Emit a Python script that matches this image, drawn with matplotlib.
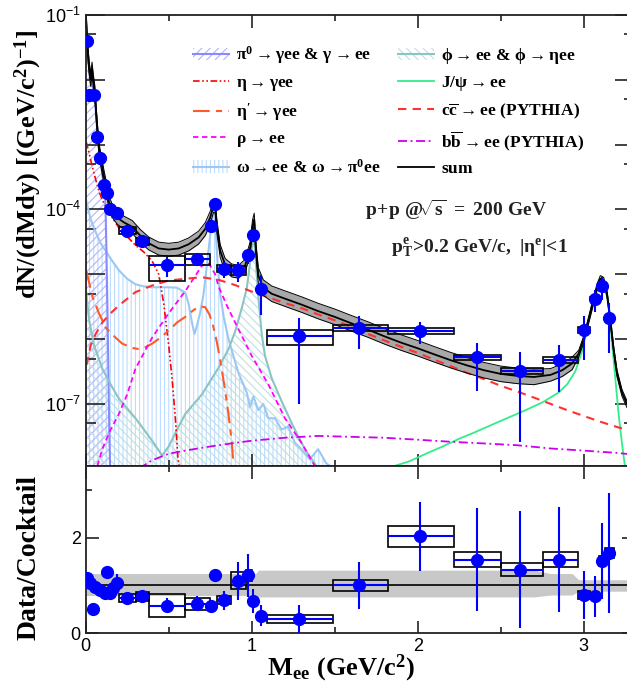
import numpy as np
import matplotlib
matplotlib.use("Agg")
import matplotlib.pyplot as plt
from matplotlib.patches import Rectangle, Patch
from matplotlib.lines import Line2D
from matplotlib.ticker import FixedLocator, FuncFormatter, NullFormatter

# ======================== DATA ========================
# low-mass data points, upper panel
lo_x = [0.01, 0.022, 0.052, 0.07, 0.086, 0.112, 0.13, 0.146, 0.186]
lo_y = [3.9e-2, 5.9e-3, 5.9e-3, 1.31e-3, 6.2e-4, 2.36e-4, 1.8e-4, 1.03e-4, 8.8e-5]
lo_err = [2e-3, 5e-4, 5e-4, 1e-4, 5e-5, 2e-5, 1.5e-5, 1e-5, 8e-6]

# low-mass data points, ratio panel
lo_rx = [0.006, 0.026, 0.046, 0.056, 0.086, 0.116, 0.126, 0.146, 0.166, 0.187]
lo_r = [1.15, 1.05, 0.50, 0.975, 0.906, 0.84, 1.28, 0.84, 0.94, 1.06]
lo_rerr = [0.03, 0.03, 0.03, 0.05, 0.05, 0.06, 0.12, 0.08, 0.09, 0.18]

# binned points with systematic boxes
hi_x = [0.247, 0.341, 0.488, 0.672, 0.755, 0.779, 0.833, 0.92, 0.98, 1.006, 1.054,
        1.285, 1.648, 2.014, 2.355, 2.616, 2.853, 3.004, 3.068, 3.108, 3.154]
hi_xlo = [0.20, 0.30, 0.38, 0.60, 0.75, 0.77, 0.79, 0.875, 0.966, 1.0, 1.02,
          1.09, 1.49, 1.82, 2.22, 2.50, 2.756, 2.966, 3.04, 3.09, 3.13]
hi_xhi = [0.30, 0.38, 0.60, 0.75, 0.77, 0.79, 0.875, 0.966, 1.0, 1.02, 1.09,
          1.49, 1.82, 2.22, 2.50, 2.756, 2.966, 3.04, 3.09, 3.13, 3.18]
hi_y = [4.7e-5, 3.2e-5, 1.37e-5, 1.74e-5, 5.5e-5, 1.2e-4, 1.22e-5, 1.17e-5, 1.95e-5, 4.1e-5, 5.96e-6,
        1.1e-6, 1.48e-6, 1.35e-6, 5.2e-7, 3.26e-7, 4.8e-7, 1.38e-6, 4.2e-6, 6.5e-6, 2.1e-6]
hi_err = [4e-6, 5e-6, 4.5e-6, 3e-6, 8e-6, 1.2e-5, 3.5e-6, 4e-6, 5e-6, 8e-6, 3.6e-6,
          1.0e-6, 7.8e-7, 5e-7, 3.6e-7, 3.0e-7, 3.3e-7, 9e-7, 1.6e-6, 2.5e-6, 1.5e-6]
hi_sys = [0.12, 0.12, 0.42, 0.2, 0, 0, 0.12, 0.16, 0.09, 0, 0,
          0.27, 0.11, 0.11, 0.10, 0.10, 0.10, 0.10, 0.05, 0.07, 0.06]
hi_r = [0.74, 0.77, 0.58, 0.62, 0.58, 1.21, 0.69, 1.10, 1.21, 0.67, 0.37,
        0.30, 1.00, 2.03, 1.54, 1.33, 1.54, 0.795, 0.77, 1.51, 1.68]
hi_rerr = [0.08, 0.12, 0.15, 0.15, 0.12, 0.14, 0.2, 0.4, 0.45, 0.25, 0.22,
           0.3, 0.49, 0.72, 1.08, 1.22, 1.1, 0.5, 0.42, 0.8, 1.25]

# cocktail components
pi0_x = [0.002, 0.01, 0.02, 0.03, 0.04, 0.05, 0.06, 0.07, 0.08, 0.09, 0.1, 0.11, 0.118,
         0.124, 0.13, 0.136, 0.142, 0.147]
pi0_y = [8.5e-2, 3.2e-2, 1.5e-2, 9e-3, 8e-3, 6e-3, 3.5e-3, 1.6e-3, 9e-4, 5.5e-4, 3.5e-4, 2.2e-4, 1.5e-4,
         3e-5, 4e-6, 4e-7, 4e-8, 1e-8]

eta_x = [0.003, 0.02, 0.04, 0.06, 0.08, 0.1, 0.13, 0.16, 0.2, 0.25, 0.3, 0.35, 0.4, 0.44,
         0.47, 0.5, 0.52, 0.54, 0.555, 0.565]
eta_y = [1.1e-3, 7.5e-4, 4.5e-4, 2.9e-4, 1.9e-4, 1.4e-4, 1e-4, 7.5e-5, 5.2e-5, 3.8e-5, 2.8e-5, 2.2e-5,
         1.6e-5, 1.0e-5, 3.5e-6, 8e-7, 2.5e-7, 6e-8, 1.5e-8, 1e-8]

etap_x = [0.005, 0.04, 0.08, 0.12, 0.18, 0.22, 0.28, 0.32, 0.36, 0.4, 0.45, 0.5, 0.55, 0.6,
          0.65, 0.685, 0.72, 0.745, 0.765, 0.79, 0.815, 0.84, 0.86, 0.88, 0.89]
etap_y = [1.1e-5, 4.5e-6, 2.5e-6, 1.5e-6, 1.05e-6, 8.5e-7, 7.3e-7, 7e-7, 7.5e-7, 8.5e-7, 1.05e-6, 1.35e-6,
          1.8e-6, 2.2e-6, 2.8e-6, 3.2e-6, 3.1e-6, 2.4e-6, 1.7e-6, 9e-7, 4e-7, 1.6e-7, 7e-8, 2.5e-8, 1.2e-8]

rho_x = [0.07, 0.1, 0.15, 0.2, 0.25, 0.3, 0.4, 0.5, 0.6, 0.7, 0.74, 0.78, 0.8, 0.85,
         0.9, 0.95, 1.0, 1.1, 1.2, 1.3, 1.38]
rho_y = [1.1e-8, 2e-8, 4e-8, 7e-8, 1.4e-7, 3.5e-7, 1.05e-6, 2.5e-6, 5.5e-6, 1.35e-5, 1.5e-5, 1e-5, 6.5e-6, 3.3e-6,
         1.8e-6, 1.0e-6, 5.5e-7, 2e-7, 6e-8, 2.5e-8, 1.1e-8]

omega_x = [0.002, 0.03, 0.06, 0.09, 0.12, 0.16, 0.2, 0.25, 0.3, 0.35, 0.4, 0.45, 0.5, 0.55,
           0.6, 0.62, 0.64, 0.655, 0.67, 0.69, 0.71, 0.73, 0.75, 0.765, 0.775, 0.785, 0.795,
           0.81, 0.83, 0.86, 0.89, 0.92, 0.95, 0.97, 0.99, 1.01, 1.04, 1.07, 1.1, 1.14, 1.18,
           1.22, 1.26, 1.3, 1.35, 1.4, 1.45, 1.5]
omega_y = [1.4e-4, 7e-5, 4.5e-5, 3e-5, 2.3e-5, 1.6e-5, 1.15e-5, 8.5e-6, 7e-6, 6.5e-6, 6.3e-6, 6.3e-6, 6.3e-6, 6.2e-6,
           5.2e-6, 3.5e-6, 1.8e-6, 1.2e-6, 1.6e-6, 2.6e-6, 5e-6, 1.4e-5, 4e-5, 8.5e-5, 9.5e-5, 4e-5, 1.4e-5,
           5e-6, 2.3e-6, 1e-6, 5.5e-7, 3e-7, 2e-7, 1.5e-7, 9e-8, 1.3e-7, 8e-8, 1e-7, 6e-8, 6e-8, 4e-8,
           4.5e-8, 2.5e-8, 2e-8, 1.4e-8, 2e-8, 1.2e-8, 1e-8]

phi_x = [0.002, 0.02, 0.05, 0.1, 0.15, 0.2, 0.3, 0.4, 0.46, 0.5, 0.55, 0.6, 0.7, 0.8, 0.86,
         0.9, 0.94, 0.97, 0.99, 1.005, 1.015, 1.025, 1.04, 1.06, 1.08, 1.12, 1.18, 1.25, 1.32, 1.39]
phi_y = [5.6e-6, 2e-6, 8e-7, 3.5e-7, 2e-7, 1.2e-7, 6e-8, 2.7e-8, 1.6e-8, 2.2e-8, 4e-8, 7e-8, 1.4e-7, 3.6e-7, 7e-7,
         1.3e-6, 3e-6, 6e-6, 1.5e-5, 3.2e-5, 3.5e-5, 1.5e-5, 4.5e-6, 1.2e-6, 5.5e-7, 2.5e-7, 1.1e-7, 4.5e-8, 2e-8, 1.1e-8]

jpsi_x = [1.86, 1.95, 2.05, 2.15, 2.25, 2.35, 2.45, 2.55, 2.65, 2.75, 2.85, 2.9, 2.95, 2.99,
          3.02, 3.05, 3.07, 3.09, 3.11, 3.13, 3.15, 3.17, 3.19, 3.21, 3.23, 3.25]
jpsi_y = [1.1e-8, 1.3e-8, 1.7e-8, 2.2e-8, 2.9e-8, 3.7e-8, 4.8e-8, 6.2e-8, 8e-8, 1.05e-7, 1.5e-7, 2.0e-7, 3.2e-7, 6.5e-7,
          1.5e-6, 3.4e-6, 5.3e-6, 7.2e-6, 8.3e-6, 7.5e-6, 3.5e-6, 9e-7, 2.5e-7, 7e-8, 2.5e-8, 1e-8]

cc_x = [0.005, 0.03, 0.06, 0.1, 0.15, 0.2, 0.3, 0.4, 0.5, 0.6, 0.7, 0.8, 0.9, 1.0, 1.1, 1.2,
        1.3, 1.4, 1.5, 1.6, 1.7, 1.8, 1.9, 2.0, 2.1, 2.2, 2.3, 2.4, 2.5, 2.6, 2.7, 2.8, 2.9,
        3.0, 3.1, 3.2, 3.3]
cc_y = [4e-7, 8e-7, 1.2e-6, 1.8e-6, 2.5e-6, 3.3e-6, 5.3e-6, 6.7e-6, 8e-6, 8.5e-6, 9e-6, 8.2e-6, 6.8e-6, 5.4e-6,
        4.4e-6, 3.6e-6, 3.0e-6, 2.4e-6, 1.95e-6, 1.55e-6, 1.2e-6, 9.5e-7, 7.6e-7, 6.1e-7, 4.8e-7, 3.8e-7,
        3.0e-7, 2.4e-7, 1.9e-7, 1.55e-7, 1.25e-7, 1.0e-7, 8e-8, 6.5e-8, 5.3e-8, 4.4e-8, 3.7e-8]

bb_x = [0.32, 0.4, 0.5, 0.6, 0.7, 0.8, 0.9, 1.0, 1.2, 1.4, 1.6, 1.8, 2.0, 2.2, 2.4, 2.6,
        2.8, 3.0, 3.2, 3.3]
bb_y = [1.0e-8, 1.35e-8, 1.7e-8, 1.9e-8, 2.1e-8, 2.3e-8, 2.5e-8, 2.7e-8, 3.0e-8, 3.2e-8, 3.1e-8, 3.0e-8,
        2.8e-8, 2.6e-8, 2.45e-8, 2.3e-8, 2.05e-8, 1.9e-8, 1.75e-8, 1.65e-8]

sum_x = [0.002, 0.01, 0.02, 0.03, 0.038, 0.045, 0.055, 0.065, 0.075, 0.085, 0.095, 0.11, 0.125,
         0.14, 0.16, 0.19, 0.23, 0.28, 0.33, 0.38, 0.44, 0.5, 0.56, 0.62, 0.68, 0.72, 0.75,
         0.77, 0.78, 0.79, 0.81, 0.84, 0.88, 0.92, 0.96, 0.99, 1.005, 1.015, 1.025, 1.04,
         1.07, 1.12, 1.2, 1.3, 1.4, 1.5, 1.6, 1.7, 1.8, 1.9, 2.0, 2.1, 2.2, 2.3, 2.4, 2.5,
         2.6, 2.7, 2.8, 2.87, 2.93, 2.97, 3.0, 3.03, 3.06, 3.08, 3.1, 3.12, 3.14, 3.16, 3.18,
         3.2, 3.23, 3.26, 3.3]
sum_y = [9e-2, 3.4e-2, 1.6e-2, 1.0e-2, 1.5e-2, 1.0e-2, 6.5e-3, 2.6e-3, 1.2e-3, 7.0e-4, 5.2e-4, 3.2e-4, 2.1e-4,
         1.3e-4, 9.5e-5, 7.5e-5, 6.3e-5, 5.4e-5, 3.9e-5, 3.0e-5, 2.5e-5, 2.4e-5, 2.5e-5, 2.9e-5, 3.7e-5, 5.0e-5, 7.5e-5,
         1.15e-4, 1.1e-4, 5.5e-5, 2.3e-5, 1.4e-5, 1.15e-5, 1.1e-5, 1.35e-5, 2.5e-5, 5.5e-5, 7.0e-5, 2.5e-5, 9.5e-6,
         6.2e-6, 5.0e-6, 4.2e-6, 3.4e-6, 2.7e-6, 2.2e-6, 1.75e-6, 1.4e-6, 1.1e-6, 8.8e-7, 7.2e-7, 5.8e-7, 4.7e-7, 3.9e-7, 3.3e-7, 2.9e-7,
         2.7e-7, 2.6e-7, 2.8e-7, 3.3e-7, 4.2e-7, 6.0e-7, 1.0e-6, 2.0e-6, 4.0e-6, 6.3e-6, 8.5e-6, 8.0e-6, 5.0e-6, 2.0e-6, 7.0e-7,
         3.0e-7, 1.5e-7, 1.0e-7, 8e-8]

# cocktail uncertainty band (relative), piecewise in mass
band_edges = [0.0, 1.03, 2.75, 2.97]
band_up = [0.25, 0.32, 0.25, 0.12]
band_dn = [0.21, 0.24, 0.20, 0.12]

# ======================== STYLE ========================
plt.rcParams["font.family"] = ["Liberation Sans", "DejaVu Sans"]
plt.rcParams["mathtext.fontset"] = "custom"
plt.rcParams["mathtext.rm"] = "Liberation Serif:bold"
plt.rcParams["mathtext.it"] = "Liberation Serif:bold"
plt.rcParams["mathtext.bf"] = "Liberation Serif:bold"
plt.rcParams["mathtext.sf"] = "Liberation Sans"
plt.rcParams["hatch.linewidth"] = 0.8
SERIF = ["Liberation Serif", "DejaVu Serif"]

C_PI0, C_PI0L = "#b4b4ff", "#8a8aff"
C_OM, C_OML = "#bcdcff", "#9cc8f4"
C_PHI, C_PHIL = "#bfe0e0", "#8cc4c4"
BLUE = "#0000ff"

fig = plt.figure(figsize=(6.27, 6.87), dpi=100)
ax = fig.add_axes([0.1367, 0.3217, 0.8737, 0.6565])
axr = fig.add_axes([0.1367, 0.0782, 0.8737, 0.2435])

YMIN = 1.1e-8

# ======================== UPPER PANEL ========================
ax.fill_between(omega_x, YMIN, omega_y, facecolor="none", edgecolor=C_OM, hatch="||||", linewidth=0)
ax.fill_between(pi0_x, YMIN, pi0_y, facecolor="none", edgecolor=C_PI0, hatch="////", linewidth=0)
ax.fill_between(phi_x, YMIN, phi_y, facecolor="none", edgecolor=C_PHI, hatch="\\\\\\\\", linewidth=0)
ax.plot(omega_x, omega_y, color=C_OML, lw=1.5)
ax.plot(pi0_x, pi0_y, color=C_PI0L, lw=1.5)
ax.plot(phi_x, phi_y, color=C_PHIL, lw=1.5)

ls_eta = (0, (4, 1.5, 1, 1.5, 1, 1.5))
ls_etap = (0, (8, 3, 3, 3))
ls_rho = (0, (3, 2))
ls_cc = (0, (4, 3))
ls_bb = (0, (5, 2, 1, 2))
ax.plot(eta_x, eta_y, color="#ff0000", lw=1.2, ls=ls_eta)
ax.plot(etap_x, etap_y, color="#ff5a28", lw=1.5, ls=ls_etap)
ax.plot(rho_x, rho_y, color="#ff00ff", lw=1.3, ls=ls_rho)
ax.plot(jpsi_x, jpsi_y, color="#33ee88", lw=1.3)
ax.plot(cc_x, cc_y, color="#ff3030", lw=1.5, ls=ls_cc)
ax.plot(bb_x, bb_y, color="#cc00ee", lw=1.3, ls=ls_bb)

# sum with uncertainty band
sx = np.array(sum_x)
sy = np.array(sum_y)
seg = np.searchsorted(band_edges, sx, side="right") - 1
up = np.array(band_up)[seg]
dn = np.array(band_dn)[seg]
ax.fill_between(sx, sy * (1 - dn), sy * (1 + up), color="#a8a8a8", lw=0)
ax.plot(sx, sy * (1 - dn), color="k", lw=0.7)
ax.plot(sx, sy * (1 + up), color="k", lw=0.7)
ax.plot(sx, sy, color="k", lw=1.3)

# data
hx = np.array(hi_x)
hy = np.array(hi_y)
xerr = [hx - np.array(hi_xlo), np.array(hi_xhi) - hx]
for x0, x1, y, s in zip(hi_xlo, hi_xhi, hi_y, hi_sys):
    if s > 0:
        ax.add_patch(Rectangle((x0, y * (1 - s)), x1 - x0, 2 * s * y, fill=False,
                               edgecolor="k", lw=1.2, zorder=4))
ax.errorbar(hx, hy, yerr=hi_err, xerr=xerr, fmt="o", color=BLUE, ms=8.5,
            elinewidth=1.5, capsize=0, zorder=5)
ax.errorbar(lo_x, lo_y, yerr=lo_err, fmt="o", color=BLUE, ms=8.5,
            elinewidth=1.5, capsize=0, zorder=5)

ax.set_yscale("log")
ax.set_xlim(0, 3.3)
ax.set_ylim(YMIN, 1e-1)
ax.yaxis.set_major_locator(FixedLocator([10.0 ** k for k in range(-8, 0)]))
ax.yaxis.set_minor_locator(FixedLocator([5 * 10.0 ** k for k in range(-9, -1)]))


def logfmt(v, pos):
    k = int(round(np.log10(v)))
    if k in (-1, -4, -7):
        return r"$\mathsf{10^{%d}}$" % k
    return ""


ax.yaxis.set_major_formatter(FuncFormatter(logfmt))
ax.yaxis.set_minor_formatter(NullFormatter())
ax.xaxis.set_major_locator(FixedLocator([0, 1, 2, 3]))
ax.xaxis.set_minor_locator(FixedLocator([0.5, 1.5, 2.5]))
ax.tick_params(which="both", direction="in", top=True, right=True, labelbottom=False,
               labelsize=13, width=1.2, color="#222222")
ax.tick_params(axis="y", which="major", length=14)
ax.tick_params(axis="y", which="minor", length=7)
ax.tick_params(axis="x", which="major", length=9)
ax.tick_params(axis="x", which="minor", length=4.5)
ax.set_ylabel(r"$\mathrm{dN/(dMdy)\ [(GeV/c^2)^{-1}]}$", fontsize=19)
ax.yaxis.set_label_coords(-0.076, 0.668)

ax.text(0.677, 0.568, r"$\mathrm{p\!+\!p\ @\!\sqrt{s}\ =\ 200\ GeV}$", transform=ax.transAxes,
        ha="center", va="center", fontsize=14, color="#222222")
ax.text(0.72, 0.483, r"$\mathrm{p_T^e\!>\!0.2\ GeV/c,\ |\eta^e|\!<\!1}$", transform=ax.transAxes,
        ha="center", va="center", fontsize=14, color="#222222")

# legend
handles = [
    (Patch(facecolor="none", edgecolor=C_PI0, hatch="////", lw=0), Line2D([], [], color=C_PI0L, lw=1.5)),
    Line2D([], [], color="#ff0000", lw=1.2, ls=ls_eta),
    Line2D([], [], color="#ff5a28", lw=1.5, ls=ls_etap),
    Line2D([], [], color="#ff00ff", lw=1.3, ls=ls_rho),
    (Patch(facecolor="none", edgecolor=C_OM, hatch="||||", lw=0), Line2D([], [], color=C_OML, lw=1.5)),
    (Patch(facecolor="none", edgecolor=C_PHI, hatch="\\\\\\\\", lw=0), Line2D([], [], color=C_PHIL, lw=1.5)),
    Line2D([], [], color="#33ee88", lw=1.3),
    Line2D([], [], color="#ff3030", lw=1.5, ls=ls_cc),
    Line2D([], [], color="#cc00ee", lw=1.3, ls=ls_bb),
    Line2D([], [], color="k", lw=1.3),
]
labels = [
    r"$\mathrm{\pi^0\rightarrow\gamma ee\ &\ \gamma\rightarrow ee}$",
    r"$\mathrm{\eta\rightarrow\gamma ee}$",
    r"$\mathrm{\eta{'}\rightarrow\gamma ee}$",
    r"$\mathrm{\rho\rightarrow ee}$",
    r"$\mathrm{\omega\rightarrow ee\ &\ \omega\rightarrow\pi^0ee}$",
    r"$\mathrm{\phi\rightarrow ee\ &\ \phi\rightarrow\eta ee}$",
    r"$\mathrm{J/\psi\rightarrow ee}$",
    r"$\mathrm{c\overline{c}\rightarrow ee\ (PYTHIA)}$",
    r"$\mathrm{b\overline{b}\rightarrow ee\ (PYTHIA)}$",
    r"$\mathrm{sum}$",
]
ax.legend(handles, labels, ncols=2, loc="upper left", bbox_to_anchor=(0.195, 0.935),
          frameon=False, fontsize=12.5, handlelength=2.1, handletextpad=0.4,
          columnspacing=1.0, labelspacing=0.48, borderaxespad=0, borderpad=0)

# ======================== RATIO PANEL ========================
axr.fill_between(sx, 1 - dn, 1 + up, color="#c8c8c8", lw=0)
axr.axhline(1, color="k", lw=1.2)
hr = np.array(hi_r)
for x0, x1, r, s in zip(hi_xlo, hi_xhi, hi_r, hi_sys):
    if s > 0:
        axr.add_patch(Rectangle((x0, r * (1 - s)), x1 - x0, 2 * s * r, fill=False,
                                edgecolor="k", lw=1.2, zorder=4))
axr.errorbar(hx, hr, yerr=hi_rerr, xerr=xerr, fmt="o", color=BLUE, ms=8.5,
             elinewidth=1.5, capsize=0, zorder=5)
axr.errorbar(lo_rx, lo_r, yerr=lo_rerr, fmt="o", color=BLUE, ms=8.5,
             elinewidth=1.5, capsize=0, zorder=5)

axr.set_xlim(0, 3.3)
axr.set_ylim(0, 3.5)
axr.yaxis.set_major_locator(FixedLocator([0, 2]))
axr.yaxis.set_minor_locator(FixedLocator([1, 3]))
axr.xaxis.set_major_locator(FixedLocator([0, 1, 2, 3]))
axr.xaxis.set_minor_locator(FixedLocator([0.5, 1.5, 2.5]))
axr.tick_params(which="both", direction="in", top=True, right=True,
                labelsize=13, width=1.2, color="#222222")
axr.tick_params(which="major", length=9)
axr.tick_params(which="minor", length=4.5)
axr.set_ylabel("Data/Cocktail", family=SERIF, fontweight="bold", fontsize=20)
axr.yaxis.set_label_coords(-0.08, 0.456)
axr.set_xlabel(r"$\mathrm{M_{ee}\ (GeV/c^2)}$", fontsize=19, va="center")
axr.xaxis.set_label_coords(0.466, -0.207)

for a in (ax, axr):
    for sp in a.spines.values():
        sp.set_linewidth(1.3)
        sp.set_color("#222222")

fig.savefig("out.png", dpi=100)
